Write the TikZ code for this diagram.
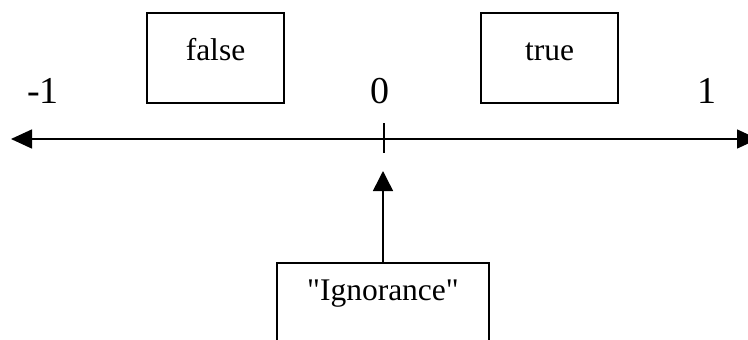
\documentclass[tikz,border=0pt]{standalone}
\usepackage{fontspec}
\setmainfont{Liberation Serif}[Ligatures=TeXOff]
\usetikzlibrary{arrows.meta}
\begin{document}
\begin{tikzpicture}[x=1pt,y=-1pt,
  every node/.style={font=\fontsize{31.5}{36}\selectfont},
  valbox/.style={draw,line width=1.5pt,minimum width=137pt,minimum height=90pt,inner sep=0pt,text height=21.5pt,text depth=17.5pt},
  ignbox/.style={draw,line width=1.5pt,minimum width=212pt,minimum height=82pt,inner sep=0pt,text height=21.5pt,text depth=29.5pt},
  numlabel/.style={anchor=base,inner sep=0pt,font=\fontsize{38}{44}\selectfont},
  axisline/.style={line width=1.5pt}]
\useasboundingbox (0,0) rectangle (748,340);
\node[valbox] (false) at (215.5,58) {false};
\node[valbox] (true) at (549.5,58) {true};
\node[numlabel] (m1) at (43,103) {-1};
\node[numlabel] (zero) at (380,103) {0};
\node[numlabel] (one) at (707,103) {1};
\coordinate (axL) at (11,139);
\coordinate (axR) at (758,139);
\draw[axisline,{Triangle[length=21pt,width=19pt]}-{Triangle[length=21pt,width=19pt]}] (axL) -- (axR);
\coordinate (tickT) at (384,123);
\coordinate (tickB) at (384,153);
\draw[axisline] (tickT) -- (tickB);
\node[ignbox] (ign) at (383,304) {"Ignorance"};
\coordinate (tip) at (383,171);
\draw[axisline,-{Triangle[length=20pt,width=20pt]}] (ign.north) -- (tip);
\end{tikzpicture}
\end{document}
